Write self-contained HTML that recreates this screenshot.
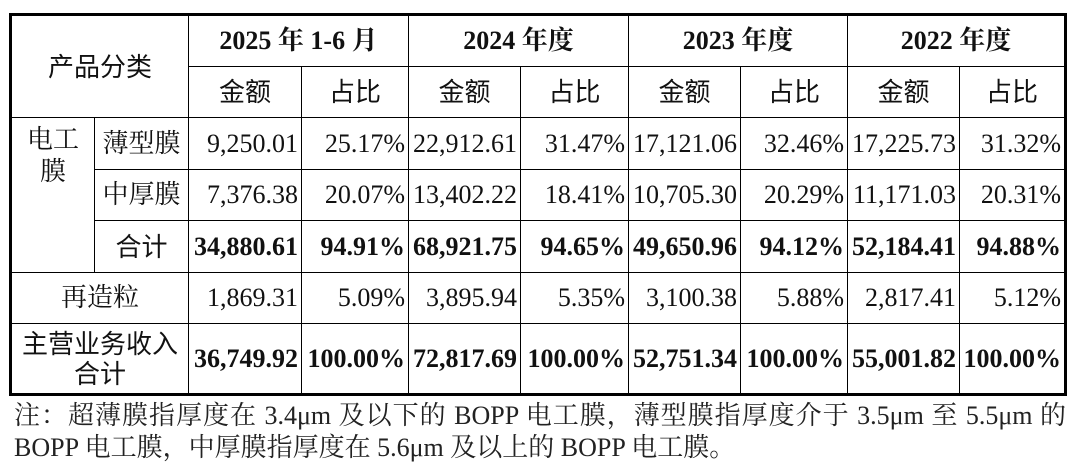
<!DOCTYPE html>
<html><head><meta charset="utf-8">
<style>
html,body{margin:0;padding:0;background:#fff;width:1080px;height:468px;overflow:hidden}
body{font-family:"Liberation Serif","Noto Serif CJK SC",serif;color:#111}
table{position:absolute;left:9px;top:13px;border-collapse:collapse;table-layout:fixed;border:3px solid #000}
td{border:1.5px solid #000;padding:0 3px 0 0;font-size:26px;line-height:30px;text-align:right;white-space:nowrap;overflow:visible}
td.c{text-align:center;padding:0}
td.b{font-weight:bold}
.s{font-family:"Liberation Sans","Noto Sans CJK SC",sans-serif;font-weight:normal}
tr{height:51px}
.note{position:absolute;left:14px;width:1052px;font-size:26px;line-height:30px;color:#222}
</style></head><body>
<table>
<colgroup><col style="width:84px"><col style="width:94px"><col style="width:113px"><col style="width:107px"><col style="width:112px"><col style="width:108px"><col style="width:112px"><col style="width:107px"><col style="width:112px"><col style="width:106px"></colgroup>
<tr style="height:52px">
<td class="c s" colspan="2" rowspan="2">产品分类</td>
<td class="c b" colspan="2">2025 年 1-6 月</td>
<td class="c b" colspan="2">2024 年度</td>
<td class="c b" colspan="2">2023 年度</td>
<td class="c b" colspan="2">2022 年度</td>
</tr>
<tr>
<td class="c s">金额</td><td class="c s">占比</td>
<td class="c s">金额</td><td class="c s">占比</td>
<td class="c s">金额</td><td class="c s">占比</td>
<td class="c s">金额</td><td class="c s">占比</td>
</tr>
<tr style="height:52px">
<td class="c" rowspan="3" style="vertical-align:top;padding-top:6px;line-height:32px">电工<br>膜</td>
<td class="c">薄型膜</td>
<td>9,250.01</td><td>25.17%</td><td>22,912.61</td><td>31.47%</td><td>17,121.06</td><td>32.46%</td><td>17,225.73</td><td>31.32%</td>
</tr>
<tr>
<td class="c">中厚膜</td>
<td>7,376.38</td><td>20.07%</td><td>13,402.22</td><td>18.41%</td><td>10,705.30</td><td>20.29%</td><td>11,171.03</td><td>20.31%</td>
</tr>
<tr style="height:52px">
<td class="c s">合计</td>
<td class="b">34,880.61</td><td class="b">94.91%</td><td class="b">68,921.75</td><td class="b">94.65%</td><td class="b">49,650.96</td><td class="b">94.12%</td><td class="b">52,184.41</td><td class="b">94.88%</td>
</tr>
<tr>
<td class="c" colspan="2">再造粒</td>
<td>1,869.31</td><td>5.09%</td><td>3,895.94</td><td>5.35%</td><td>3,100.38</td><td>5.88%</td><td>2,817.41</td><td>5.12%</td>
</tr>
<tr style="height:71px">
<td class="c s" colspan="2" style="line-height:30px">主营业务收入<br>合计</td>
<td class="b">36,749.92</td><td class="b">100.00%</td><td class="b">72,817.69</td><td class="b">100.00%</td><td class="b">52,751.34</td><td class="b">100.00%</td><td class="b">55,001.82</td><td class="b">100.00%</td>
</tr>
</table>
<div class="note" style="top:401px;text-align:justify;text-align-last:justify">注：超薄膜指厚度在 3.4μm 及以下的 BOPP 电工膜，薄型膜指厚度介于 3.5μm 至 5.5μm 的</div>
<div class="note" style="top:433px">BOPP 电工膜，中厚膜指厚度在 5.6μm 及以上的 BOPP 电工膜。</div>
</body></html>
